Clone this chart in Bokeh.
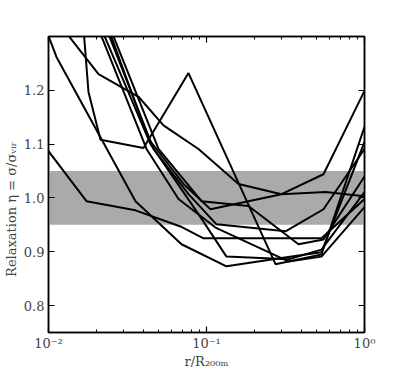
from bokeh.plotting import figure
from bokeh.models import BoxAnnotation, LinearAxis, LogAxis, FixedTicker, Range1d
from bokeh.embed import file_html
from bokeh.resources import INLINE

# radial bins (r / R200m) and relaxation values for each halo
r1 = [0.01666, 0.01791, 0.02134, 0.03994, 0.07691, 0.2734, 0.5342, 1.0]
e1 = [1.314, 1.197, 1.108, 1.093, 1.232, 0.877, 0.895, 1.132]
r2 = [0.01, 0.01739, 0.03553, 0.06845, 0.09572, 0.5342, 1.0]
e2 = [1.087, 0.994, 0.977, 0.947, 0.925, 0.925, 0.998]
r3 = [0.01, 0.01123, 0.03553, 0.06946, 0.1338, 0.3208, 0.5342, 1.0]
e3 = [1.301, 1.262, 0.994, 0.914, 0.873, 0.890, 0.899, 1.104]
r4 = [0.0127, 0.02073, 0.03713, 0.05342, 0.08898, 0.1594, 0.2984, 0.5501, 1.0]
e4 = [1.31, 1.230, 1.188, 1.135, 1.091, 1.026, 1.007, 1.044, 1.199]
r5 = [0.02398, 0.04295, 0.07152, 0.1060, 0.2984, 0.5664, 1.0]
e5 = [1.314, 1.110, 1.026, 0.979, 1.007, 1.011, 1.003]
r6 = [0.02329, 0.04620, 0.07691, 0.1157, 0.3162, 0.5501, 1.0]
e6 = [1.314, 1.091, 1.007, 0.951, 0.938, 0.979, 1.091]
r7 = [0.02469, 0.04969, 0.09297, 0.1844, 0.3822, 0.5501, 1.0]
e7 = [1.314, 1.091, 0.994, 0.985, 0.914, 0.923, 1.040]
r8 = [0.02073, 0.04173, 0.06650, 0.1140, 0.3304, 0.5342, 1.0]
e8 = [1.314, 1.091, 0.998, 0.945, 0.882, 0.891, 0.983]
r9 = [0.02164, 0.04421, 0.08898, 0.1338, 0.3304, 0.5342, 1.0]
e9 = [1.314, 1.100, 0.970, 0.891, 0.886, 0.904, 1.011]

radii = [r1, r2, r3, r4, r5, r6, r7, r8, r9]
etas = [e1, e2, e3, e4, e5, e6, e7, e8, e9]

band_low, band_high = 0.95, 1.05
y_ticks = [0.8, 0.9, 1.0, 1.1, 1.2]
y_labels = ["0.8", "0.9", "1.0", "1.1", "1.2"]
x_ticks = [0.01, 0.1, 1.0]
x_labels = ["10\u207b\u00b2", "10\u207b\u00b9", "10\u2070"]
x_minor = [m * d for d in (0.01, 0.1) for m in range(2, 10)]

FONT = "DejaVu Serif"
TXT = "#444444"

p = figure(x_axis_type="log", x_range=Range1d(0.01, 1.0), y_range=Range1d(0.75, 1.30),
           frame_width=316, frame_height=296, output_backend="svg", toolbar_location=None,
           min_border_left=42, min_border_top=36, min_border_right=20, min_border_bottom=28)
p.xgrid.visible = False
p.ygrid.visible = False
p.outline_line_color = "black"
p.outline_line_width = 1.5
p.background_fill_color = "white"
p.border_fill_color = "white"

band = BoxAnnotation(bottom=band_low, top=band_high, fill_color="#aaaaaa", fill_alpha=1.0,
                     line_alpha=0, level="underlay")
p.add_layout(band)

for rr, ee in zip(radii, etas):
    p.line(rr, ee, line_color="black", line_width=2)

def style_axis(ax, labels=True):
    ax.axis_line_color = "black"
    ax.axis_line_width = 1.5
    ax.major_tick_in = 6
    ax.major_tick_out = 0
    ax.minor_tick_in = 3
    ax.minor_tick_out = 0
    ax.major_tick_line_color = "black"
    ax.minor_tick_line_color = "black"
    ax.major_tick_line_width = 1.2
    ax.minor_tick_line_width = 1
    ax.major_label_text_font = FONT
    ax.major_label_text_color = TXT
    ax.major_label_text_font_size = "13px"
    ax.axis_label_text_font = FONT
    ax.axis_label_text_color = TXT
    ax.axis_label_text_font_style = "normal"
    ax.axis_label_text_font_size = "13px"
    if not labels:
        ax.major_label_text_color = None
        ax.major_label_text_font_size = "1px"
        ax.major_label_standoff = 0

xa = p.xaxis[0]
style_axis(xa)
xa.ticker = FixedTicker(ticks=x_ticks, minor_ticks=x_minor)
xa.major_label_overrides = {t: l for t, l in zip(x_ticks, x_labels)}
xa.axis_label = "r/R\u2082\u2080\u2080\u2098"
xa.major_label_standoff = 3
xa.axis_label_standoff = 0

ya = p.yaxis[0]
style_axis(ya)
ya.ticker = FixedTicker(ticks=y_ticks)
ya.major_label_overrides = {t: l for t, l in zip(y_ticks, y_labels)}
ya.minor_tick_line_color = None
ya.axis_label = "Relaxation \u03b7 = \u03c3/\u03c3\u1d65\u1d62\u1d63" + "\u00a0" * 12
ya.major_label_standoff = 4
ya.axis_label_standoff = 2

top = LogAxis(ticker=FixedTicker(ticks=x_ticks, minor_ticks=x_minor))
style_axis(top, labels=False)
p.add_layout(top, "above")
right = LinearAxis(ticker=FixedTicker(ticks=y_ticks))
style_axis(right, labels=False)
right.minor_tick_line_color = None
p.add_layout(right, "right")

open("out.html", "w").write(file_html(p, INLINE))
